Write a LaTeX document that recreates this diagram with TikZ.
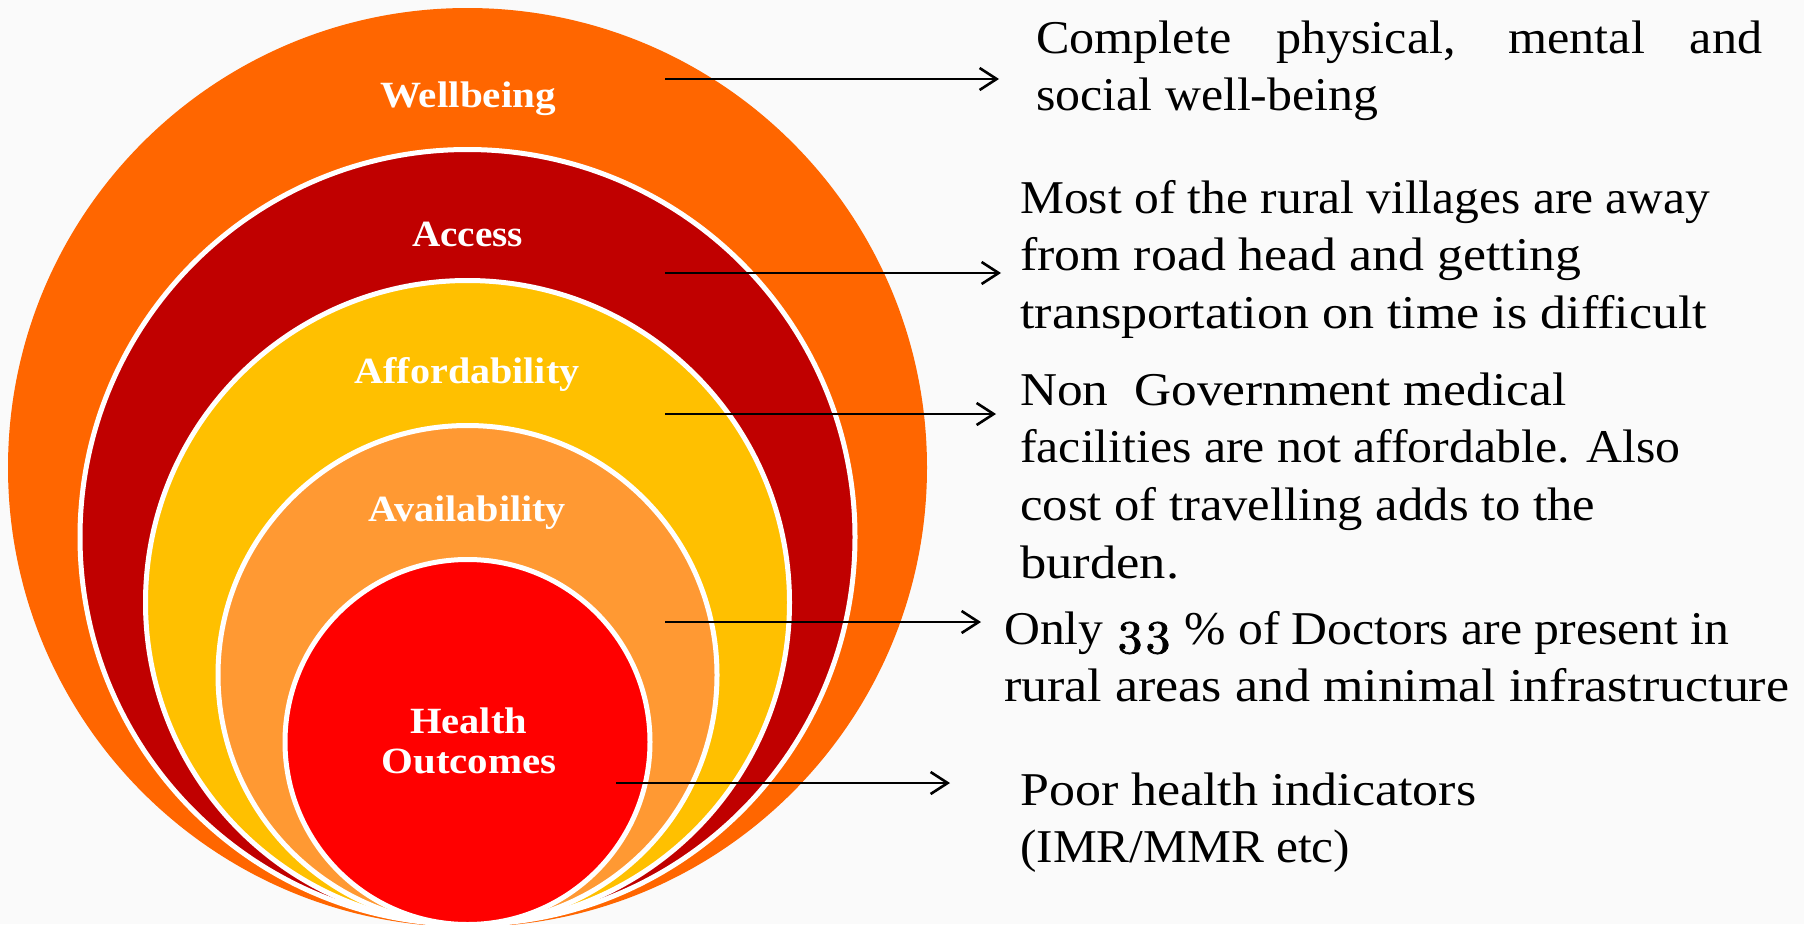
\documentclass[tikz,border=0pt]{standalone}
\usepackage{fontspec}
\setmainfont{Liberation Serif}
\newfontfamily\osf{lmroman10-regular.otf}[Numbers=OldStyle,FakeBold=1.5]
\usetikzlibrary{arrows.meta}
\definecolor{cOuter}{RGB}{255,102,0}
\definecolor{cAccess}{RGB}{192,0,0}
\definecolor{cAfford}{RGB}{255,192,0}
\definecolor{cAvail}{RGB}{255,153,51}
\definecolor{cHealth}{RGB}{255,0,0}
\definecolor{bgcol}{RGB}{250,250,250}
\newcommand{\fitw}[2]{\resizebox{#1}{\height}{#2}}
\begin{document}
\begin{tikzpicture}[x=1pt,y=-1pt,
  ring/.style={draw=white,line width=5pt},
  lbl/.style={text=white,font=\fontsize{37}{40}\selectfont\bfseries,inner sep=0pt,anchor=base},
  desc/.style={font=\fontsize{47}{57}\selectfont,inner sep=0pt,anchor=base west},
  pointer/.style={line width=2.6pt,-{Straight Barb[length=17pt,width=22pt]}}]
\useasboundingbox (0,0) rectangle (1804,924);
\fill[bgcol] (0,0) rectangle (1804,924);

% nested circles, all touching near the bottom
\fill[cOuter] (467.5,467.5) circle[radius=459.5pt];
\path[ring,fill=cAccess] (467.5,537) circle[radius=387.5pt];
\path[ring,fill=cAfford] (467.5,602.5) circle[radius=322pt];
\path[ring,fill=cAvail] (467.5,675) circle[radius=249.5pt];
\path[ring,fill=cHealth] (467.5,742) circle[radius=182.5pt];

% circle labels
\node[lbl] (lWell) at (468,107) {\fitw{176pt}{Wellbeing}};
\node[lbl] (lAcc) at (467.5,246) {\fitw{111pt}{Access}};
\node[lbl] (lAff) at (467,383) {\fitw{225pt}{Affordability}};
\node[lbl] (lAva) at (467,521) {\fitw{198pt}{Availability}};
\node[lbl] (lHea) at (468.5,733) {\fitw{117pt}{Health}};
\node[lbl] (lOut) at (469,773) {\fitw{175pt}{Outcomes}};

% descriptions
\node[desc] (d1a) at (1036,53) {\fitw{726pt}{\makebox[680pt][s]{Complete physical, mental and}}};
\node[desc] (d1b) at (1036,110) {\fitw{342pt}{social well-being}};

\node[desc] (d2a) at (1020,213) {\fitw{690pt}{Most of the rural villages are away}};
\node[desc] (d2b) at (1020,270) {\fitw{561pt}{from road head and getting}};
\node[desc] (d2c) at (1020,328) {\fitw{687pt}{transportation on time is difficult}};

\node[desc] (d3a) at (1020,405) {\fitw{546pt}{Non\ \ Government medical}};
\node[desc] (d3b) at (1020,462) {\fitw{660pt}{facilities are not affordable. Also}};
\node[desc] (d3c) at (1020,520) {\fitw{575pt}{cost of travelling adds to the}};
\node[desc] (d3d) at (1020,578) {\fitw{159pt}{burden.}};

\node[desc] (d4a) at (1004,644) {\fitw{725pt}{Only {\osf 33} \% of Doctors are present in}};
\node[desc] (d4b) at (1004,701) {\fitw{785pt}{rural areas and minimal infrastructure}};

\node[desc] (d5a) at (1020,805) {\fitw{456pt}{Poor health indicators}};
\node[desc] (d5b) at (1020,862) {\fitw{330pt}{(IMR/MMR etc)}};

% arrows
\coordinate (s1) at (665,79);   \coordinate (e1) at (999,79);
\coordinate (s2) at (665,273);  \coordinate (e2) at (1001,273);
\coordinate (s3) at (665,414);  \coordinate (e3) at (996,414);
\coordinate (s4) at (665,622);  \coordinate (e4) at (981,622);
\coordinate (s5) at (616,783);  \coordinate (e5) at (950,783);
\draw[pointer] (s1) -- (e1);
\draw[pointer] (s2) -- (e2);
\draw[pointer] (s3) -- (e3);
\draw[pointer] (s4) -- (e4);
\draw[pointer] (s5) -- (e5);
\end{tikzpicture}
\end{document}
